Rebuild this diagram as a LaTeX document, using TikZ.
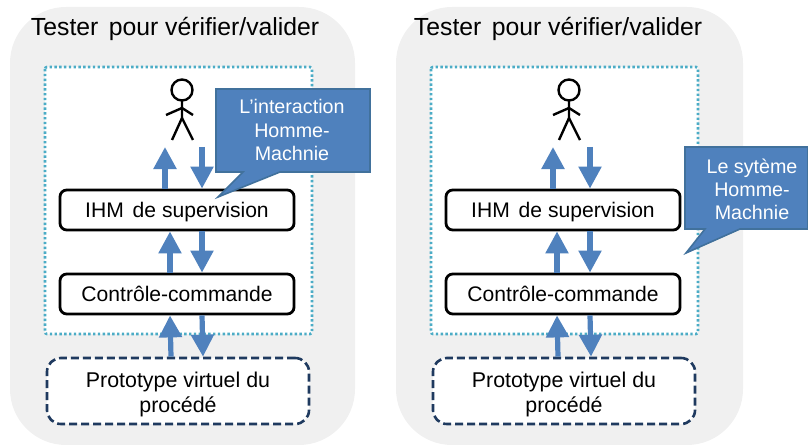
\documentclass[tikz,border=0pt]{standalone}
\usepackage{fontspec}
\setmainfont{Liberation Sans}
\usetikzlibrary{arrows.meta}
\definecolor{fondgris}{HTML}{F0F0F0}
\definecolor{bleufleche}{HTML}{4F81BD}
\definecolor{bordbulle}{HTML}{41719C}
\definecolor{turquoise}{HTML}{4BACC6}
\definecolor{marine}{HTML}{1F3A5F}
\tikzset{
  panneau/.style={fill=fondgris,rounded corners=1.4cm},
  systeme/.style={draw=turquoise,line width=.065cm,dash pattern=on .06cm off .06cm,fill=white,rounded corners=.05cm},
  bloc/.style={draw=black,line width=.07cm,fill=white,rounded corners=.17cm,minimum width=5.85cm,minimum height=1cm,text height=.45cm,text depth=.07cm,font=\fontsize{15}{17}\selectfont},
  procede/.style={draw=marine,line width=.065cm,dash pattern=on .2cm off .1cm,fill=white,rounded corners=.35cm,minimum width=6.55cm,minimum height=1.65cm},
  texteprocede/.style={align=center,font=\fontsize{15.2}{17.8}\selectfont},
  fleche/.style={draw=bleufleche,line width=.13cm,-{Triangle[width=.55cm,length=.55cm]}},
  bonhomme/.style={draw=black,line width=.06cm},
  bulle/.style={fill=bleufleche,draw=bordbulle,line width=.04cm},
  textebulle/.style={text=white,align=center,font=\fontsize{14}{16.4}\selectfont},
  titre/.style={anchor=west,font=\fontsize{17.6}{20}\selectfont}
}
\begin{document}
\begin{tikzpicture}[x=.025cm,y=-.025cm]
\useasboundingbox (0,0) rectangle (808,445);
% left panel
\fill[panneau] (10,7) rectangle (355,445);
\node[titre] (titreL) at (26,29) {Tester\hspace{.42em}pour vérifier/valider};
\draw[systeme] (45,67) rectangle (312,334);
\node[bloc] (ihmL) at (177,210) {IHM\hspace{.42em}de supervision};
\node[bloc] (ctrlL) at (177,294) {Contrôle-commande};
\node[procede] (protoL) at (178,391) {};
\node[texteprocede] (texteL) at (178,394) {Prototype virtuel du\\procédé};
\coordinate (hautL) at (177,147);
\draw[bonhomme] (182,90) circle (10.5);
\draw[bonhomme] (182,100) -- (182,118) -- (172,140);
\draw[bonhomme] (182,118) -- (193,140);
\draw[bonhomme] (166,115) -- (182,108) -- (193,115);
\draw[fleche] ([xshift=-.3cm]ihmL.north) -- ([xshift=-.3cm]hautL);
\draw[fleche] ([xshift=.625cm]hautL) -- ([xshift=.625cm]ihmL.north);
\draw[fleche] ([xshift=-.175cm]ctrlL.north) -- ([xshift=-.175cm]ihmL.south);
\draw[fleche] ([xshift=.625cm]ihmL.south) -- ([xshift=.625cm]ctrlL.north);
\draw[fleche] ([xshift=-.175cm]protoL.north) -- ([xshift=-.175cm]ctrlL.south);
\draw[fleche] ([xshift=.625cm]ctrlL.south) -- ([xshift=.625cm]protoL.north);
\draw[bulle] (216,89) -- (370,89) -- (370,172) -- (280,172) -- (218,197) -- (243,172) -- (216,172) -- cycle;
\node[textebulle] (bulleL) at (292,130) {L’interaction\\Homme-\\Machnie};
% right panel
\fill[panneau] (396,7) rectangle (743,445);
\node[titre] (titreR) at (409,29) {Tester\hspace{.42em}pour vérifier/valider};
\draw[systeme] (431,67) rectangle (698,334);
\node[bloc] (ihmR) at (563,210) {IHM\hspace{.42em}de supervision};
\node[bloc] (ctrlR) at (563,294) {Contrôle-commande};
\node[procede] (protoR) at (564,391) {};
\node[texteprocede] (texteR) at (564,394) {Prototype virtuel du\\procédé};
\coordinate (hautR) at (563,147);
\draw[bonhomme] (569,90) circle (10.5);
\draw[bonhomme] (569,100) -- (569,118) -- (559,140);
\draw[bonhomme] (569,118) -- (580,140);
\draw[bonhomme] (553,115) -- (569,108) -- (580,115);
\draw[fleche] ([xshift=-.25cm]ihmR.north) -- ([xshift=-.25cm]hautR);
\draw[fleche] ([xshift=.675cm]hautR) -- ([xshift=.675cm]ihmR.north);
\draw[fleche] ([xshift=-.15cm]ctrlR.north) -- ([xshift=-.15cm]ihmR.south);
\draw[fleche] ([xshift=.675cm]ihmR.south) -- ([xshift=.675cm]ctrlR.north);
\draw[fleche] ([xshift=-.15cm]protoR.north) -- ([xshift=-.15cm]ctrlR.south);
\draw[fleche] ([xshift=.675cm]ctrlR.south) -- ([xshift=.675cm]protoR.north);
\draw[bulle] (685,147) -- (808,147) -- (808,229) -- (740,229) -- (686,253) -- (705,229) -- (685,229) -- cycle;
\node[textebulle] (bulleR) at (752,189) {Le sytème\\Homme-\\Machnie};
\end{tikzpicture}
\end{document}
